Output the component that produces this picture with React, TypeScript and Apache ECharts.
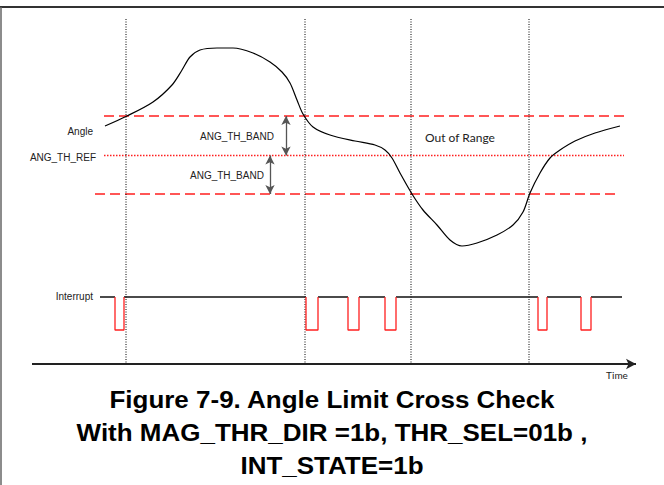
import React, { useEffect, useRef } from "react";
import * as echarts from "echarts";

// Angle trace: time (x) and angle (screen-style units, larger = lower)
const angleT = [105, 127, 153, 172, 182, 190, 200, 217, 233, 253, 270, 282, 290, 297, 303, 313, 330, 355, 375, 385, 392, 400, 412, 423, 437, 450, 462, 477, 497, 513, 523, 530, 540, 550, 560, 575, 595, 620];
const angleV = [126, 116, 102, 85, 70, 57, 50, 48, 48, 53, 62, 72, 83, 100, 114, 127, 135, 141, 145, 150, 158, 173, 194, 210, 225, 240, 246, 243, 235, 225, 212, 193, 173, 158, 150, 141, 133, 126];

// Threshold levels
const upperBand = 116;
const thRef = 155.5;
const lowerBand = 194;
const upperSpan = [104, 625];
const refSpan = [104, 624];
const lowerSpan = [95, 615];

// Crossing instants (vertical markers)
const crossings = [126, 305, 411, 529];
const markerTop = 19;
const markerBottom = 365;

// Interrupt waveform
const intStart = 100;
const intEnd = 622;
const intHigh = 297;
const intLow = 330;
const pulses: [number, number][] = [
  [115, 124],
  [306, 318],
  [348, 359],
  [385, 396],
  [538, 547],
  [581, 591],
];

// Time axis
const timeAxisY = 364;
const timeAxisFrom = 32;
const timeAxisTo = 636;

// Band arrows
const arrowUpperX = 286;
const arrowLowerX = 270;

const RED = "#ff1f1f";

export default function App() {
  const ref = useRef<HTMLDivElement>(null);

  useEffect(() => {
    if (!ref.current) return;
    const chart = echarts.init(ref.current, undefined, { renderer: "svg" });

    const angleData = angleT.map((t, i) => [t, angleV[i]]);

    const highData: any[] = [];
    let cur = intStart;
    pulses.forEach(([s, e]) => {
      highData.push([cur, intHigh], [s, intHigh], "-");
      cur = e;
    });
    highData.push([cur, intHigh], [intEnd, intHigh]);

    const pulseData: any[] = [];
    pulses.forEach(([s, e], i) => {
      if (i > 0) pulseData.push("-");
      pulseData.push([s, intHigh], [s, intLow], [e, intLow], [e, intHigh]);
    });

    const hline = (y: number, span: number[], type: any, width: number) => ({
      type: "line",
      data: [
        [span[0], y],
        [span[1], y],
      ],
      symbol: "none",
      silent: true,
      lineStyle: { color: RED, width, type },
    });

    const vlines = crossings.map((x) => ({
      type: "line",
      data: [
        [x, markerTop],
        [x, markerBottom],
      ],
      symbol: "none",
      silent: true,
      lineStyle: { color: "#000", width: 1, type: [1, 1.5] },
    }));

    const labelFont = "Liberation Sans, Arial, sans-serif";

    const option: any = {
      animation: false,
      grid: { left: 0, right: 0, top: 0, bottom: 0 },
      xAxis: { type: "value", min: 0, max: 664, show: false },
      yAxis: { type: "value", min: 0, max: 485, inverse: true, show: false },
      series: [
        hline(upperBand, upperSpan, [10, 5], 1.5),
        hline(thRef, refSpan, [1.5, 1.5], 1.5),
        hline(lowerBand, lowerSpan, [10, 5], 1.5),
        ...vlines,
        {
          type: "line",
          data: angleData,
          smooth: 0.3,
          symbol: "none",
          silent: true,
          lineStyle: { color: "#000", width: 1.2 },
        },
        {
          type: "line",
          data: highData,
          symbol: "none",
          silent: true,
          connectNulls: false,
          lineStyle: { color: "#111", width: 1.3 },
        },
        {
          type: "line",
          data: pulseData,
          symbol: "none",
          silent: true,
          connectNulls: false,
          lineStyle: { color: RED, width: 1.3 },
        },
        {
          type: "line",
          data: [],
          silent: true,
          markLine: {
            silent: true,
            animation: false,
            label: { show: false },
            symbol: ["arrow", "arrow"],
            symbolSize: [7, 9],
            lineStyle: { color: "#555", width: 1.3, type: "solid" },
            data: [
              [{ coord: [arrowUpperX, upperBand] }, { coord: [arrowUpperX, thRef] }],
              [{ coord: [arrowLowerX, thRef] }, { coord: [arrowLowerX, lowerBand] }],
            ],
          },
        },
        {
          type: "line",
          data: [],
          silent: true,
          markLine: {
            silent: true,
            animation: false,
            label: { show: false },
            symbol: ["none", "arrow"],
            symbolSize: [8, 10],
            lineStyle: { color: "#222", width: 1.8, type: "solid" },
            data: [[{ coord: [timeAxisFrom, timeAxisY] }, { coord: [timeAxisTo, timeAxisY] }]],
          },
        },
      ],
      graphic: [
        { type: "line", shape: { x1: 0, y1: 7, x2: 664, y2: 7 }, style: { stroke: "#333", lineWidth: 2 } },
        { type: "line", shape: { x1: 1, y1: 7, x2: 1, y2: 485 }, style: { stroke: "#666", lineWidth: 1.5 } },
        { type: "text", x: 93, y: 131, style: { text: "Angle", font: `10px ${labelFont}`, fill: "#222", align: "right", verticalAlign: "middle" } },
        { type: "text", x: 96, y: 157, style: { text: "ANG_TH_REF", font: `10px ${labelFont}`, fill: "#222", align: "right", verticalAlign: "middle" } },
        { type: "text", x: 200, y: 136, style: { text: "ANG_TH_BAND", font: `10px ${labelFont}`, fill: "#222", align: "left", verticalAlign: "middle" } },
        { type: "text", x: 190, y: 175, style: { text: "ANG_TH_BAND", font: `10px ${labelFont}`, fill: "#222", align: "left", verticalAlign: "middle" } },
        { type: "text", x: 93, y: 296, style: { text: "Interrupt", font: `10px ${labelFont}`, fill: "#222", align: "right", verticalAlign: "middle" } },
        { type: "text", x: 425, y: 137, style: { text: "Out of Range", font: `12px Lato, sans-serif`, fill: "#222", align: "left", verticalAlign: "middle" } },
        { type: "text", x: 617, y: 375, style: { text: "Time", font: `10px Lato, sans-serif`, fill: "#222", align: "center", verticalAlign: "middle" } },
        { type: "text", x: 332, y: 400, scaleX: 1.13, style: { text: "Figure 7-9. Angle Limit Cross Check", font: `bold 23px ${labelFont}`, fill: "#000", align: "center", verticalAlign: "middle" } },
        { type: "text", x: 332, y: 433, scaleX: 1.13, style: { text: "With MAG_THR_DIR =1b, THR_SEL=01b ,", font: `bold 23px ${labelFont}`, fill: "#000", align: "center", verticalAlign: "middle" } },
        { type: "text", x: 332, y: 466, scaleX: 1.13, style: { text: "INT_STATE=1b", font: `bold 23px ${labelFont}`, fill: "#000", align: "center", verticalAlign: "middle" } },
      ],
    };

    chart.setOption(option);
    return () => chart.dispose();
  }, []);

  return (
    <div
      ref={ref}
      style={{ position: "fixed", left: 0, top: 0, width: 664, height: 485, background: "#fff" }}
    />
  );
}
